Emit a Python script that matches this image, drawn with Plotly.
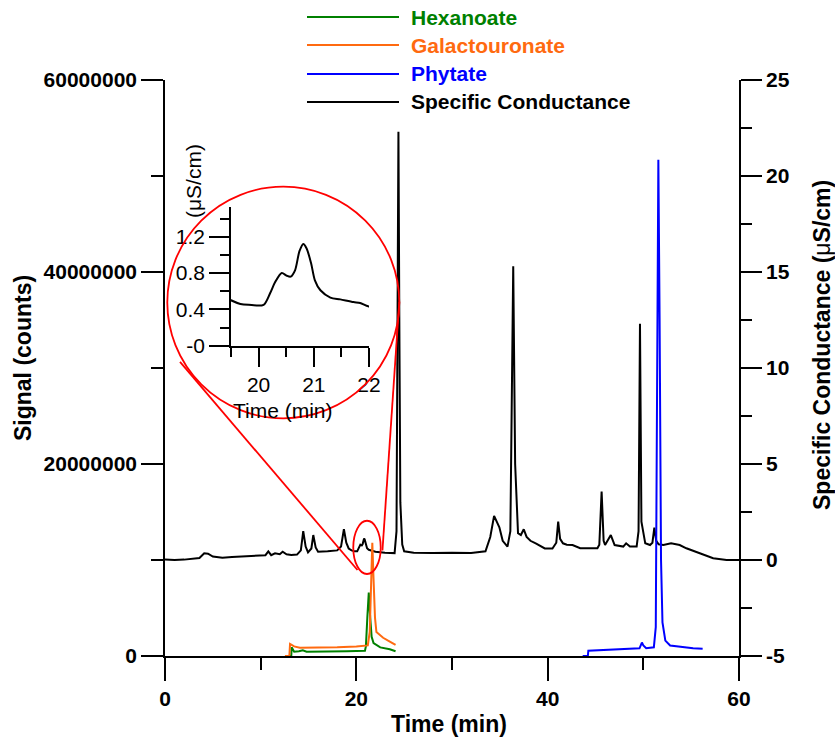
import plotly.graph_objects as go

# ---------------- data ----------------
series_names = ["Hexanoate", "Galactouronate", "Phytate", "Specific Conductance"]
series_colors = ["#008000", "#ff6a10", "#0000ff", "#000000"]

hex_t = [12.54, 13.2, 13.24, 13.5, 14.0, 14.4, 14.8, 16.0, 17.0, 19.0, 20.9, 21.0, 21.15, 21.3, 21.45,
         21.6, 21.8, 22.5, 23.5, 24.1]
hex_y = [0, 0, 0.9e6, 0.45e6, 0.5e6, 0.6e6, 0.45e6, 0.45e6, 0.45e6, 0.5e6, 0.55e6, 1.0e6, 4.0e6, 6.6e6,
         4.0e6, 2.0e6, 1.35e6, 0.9e6, 0.7e6, 0.5e6]

gal_t = [12.54, 13.0, 13.07, 13.5, 14.1, 16.0, 18.0, 20.0, 20.9, 21.2, 21.4, 21.55, 21.67, 21.8, 21.95,
         22.1, 22.5, 22.8, 23.5, 24.1]
gal_y = [0, 0, 1.25e6, 1.0e6, 0.85e6, 0.85e6, 0.9e6, 1.0e6, 1.05e6, 1.1e6, 2.5e6, 8.0e6, 11.8e6, 8.0e6,
         4.0e6, 2.5e6, 2.1e6, 1.9e6, 1.5e6, 1.15e6]

phy_t = [43.66, 44.2, 44.25, 45.5, 47.0, 48.3, 49.6, 49.85, 50.0, 50.3, 51.1, 51.3, 51.45, 51.57, 51.7,
         51.85, 52.0, 52.3, 52.8, 53.5, 54.5, 55.2, 56.2]
phy_y = [0, 0, 0.55e6, 0.6e6, 0.65e6, 0.7e6, 0.8e6, 1.4e6, 1.1e6, 0.8e6, 0.9e6, 3.0e6, 30e6, 51.7e6, 35e6,
         10e6, 3.5e6, 1.6e6, 1.1e6, 1.0e6, 0.85e6, 0.8e6, 0.75e6]

cond_t = [0.0, 1.0, 2.0, 3.0, 3.6, 4.1, 4.5, 5.0, 6.0, 7.0, 8.0, 9.0, 10.0, 10.5, 10.8, 11.1, 11.5, 12.0,
          12.3, 12.7, 13.2, 13.8, 14.2, 14.45, 14.7, 14.95, 15.3, 15.5, 15.75, 16.0, 17.0, 18.0, 18.4,
          18.7, 18.95, 19.2, 19.5, 19.67, 19.82, 20.09, 20.21, 20.30, 20.42, 20.51, 20.58, 20.66, 20.74,
          20.81, 20.87, 20.95, 21.02, 21.12, 21.30, 21.48, 21.72, 21.84, 22.0, 23.0, 24.0, 24.2, 24.3,
          24.4, 24.5, 24.6, 24.8, 25.0, 26.0, 28.0, 30.0, 32.0, 33.5, 34.0, 34.4, 34.7, 34.95, 35.3, 35.8,
          36.1, 36.4, 36.6, 36.9, 37.2, 37.5, 37.8, 38.2, 38.8, 39.7, 40.5, 40.9, 41.1, 41.3, 41.6, 42.0,
          42.6, 43.4, 45.2, 45.4, 45.64, 45.85, 46.0, 46.6, 47.0, 47.6, 47.9, 48.2, 48.6, 49.3, 49.5,
          49.65, 49.8, 50.2, 50.7, 50.95, 51.15, 51.35, 51.6, 52.1, 52.9, 53.8, 54.5, 55.9, 57.3, 58.7,
          60.0]
cond_y = [0.02, 0.0, 0.02, 0.05, 0.1, 0.35, 0.33, 0.18, 0.12, 0.15, 0.18, 0.2, 0.22, 0.25, 0.45, 0.25,
          0.35, 0.3, 0.43, 0.3, 0.26, 0.28, 0.5, 1.5, 0.7, 0.4, 0.6, 1.3, 0.65, 0.43, 0.45, 0.5, 0.7,
          1.6, 0.9, 0.6, 0.5, 0.46, 0.45, 0.45, 0.58, 0.70, 0.80, 0.77, 0.76, 0.83, 1.04, 1.12, 1.07,
          0.91, 0.72, 0.61, 0.53, 0.51, 0.48, 0.47, 0.43, 0.38, 0.36, 1.5, 12.0, 22.3, 12.0, 3.0, 0.8,
          0.45, 0.38, 0.36, 0.38, 0.36, 0.45, 1.2, 2.3, 2.0, 1.7, 1.0, 0.7, 1.5, 15.3, 5.0, 1.4, 1.3,
          1.6, 1.2, 1.0, 0.85, 0.6, 0.6, 0.9, 2.0, 1.1, 0.87, 0.8, 0.78, 0.61, 0.61, 0.8, 3.56, 1.0,
          0.78, 1.3, 0.78, 0.7, 0.7, 0.87, 0.7, 0.7, 1.5, 12.3, 2.0, 0.87, 0.78, 0.9, 1.68, 1.0, 0.82,
          0.78, 0.87, 0.78, 0.61, 0.35, 0.09, 0.0, 0.0]

x_ticks = [0, 20, 40, 60]
x_minor = [10, 30, 50]
left_ticks = [0, 20000000, 40000000, 60000000]
left_labels = ["0", "20000000", "40000000", "60000000"]
left_minor = [10000000, 30000000, 50000000]
right_ticks = [-5, 0, 5, 10, 15, 20, 25]
right_labels = ["-5", "0", "5", "10", "15", "20", "25"]
right_minor = [-2.5, 2.5, 7.5, 12.5, 17.5, 22.5]
inset_x_ticks = [20, 21, 22]
inset_x_minor = [19.5, 20.5, 21.5]
inset_y_ticks = [0, 0.4, 0.8, 1.2]
inset_y_labels = ["-0", "0.4", "0.8", "1.2"]
inset_y_minor = [0.2, 0.6, 1.0, 1.4]

# ---------------- figure ----------------
W, H = 835, 740
ML, MR, MT, MB = 165, 96, 80, 84
PW, PH = W - ML - MR, H - MT - MB

def px(xp):
    return (xp - ML) / PW

def py(yp):
    return (H - MB - yp) / PH

FONT = "Liberation Sans, Arial, sans-serif"
LW = 2.0

fig = go.Figure()
# conductance (primary y, right side) drawn first -> below the signal traces
fig.add_trace(go.Scatter(x=cond_t, y=cond_y, mode="lines", name=series_names[3],
                         line=dict(color=series_colors[3], width=LW), xaxis="x", yaxis="y",
                         showlegend=False))
for t, y, n, c in [(hex_t, hex_y, series_names[0], series_colors[0]),
                   (gal_t, gal_y, series_names[1], series_colors[1]),
                   (phy_t, phy_y, series_names[2], series_colors[2])]:
    fig.add_trace(go.Scatter(x=t, y=y, mode="lines", name=n, line=dict(color=c, width=LW),
                             xaxis="x", yaxis="y2", showlegend=False))
# inset
fig.add_trace(go.Scatter(x=cond_t, y=cond_y, mode="lines",
                         line=dict(color="black", width=LW, shape="spline", smoothing=0.8),
                         xaxis="x3", yaxis="y3", showlegend=False))

axis_common = dict(showline=True, linecolor="black", linewidth=1.6, ticks="outside", tickwidth=1.6,
                   tickcolor="black", showgrid=False, zeroline=False)
bold_tick = dict(family=FONT, size=21, color="black", weight="bold")
reg_tick = dict(family=FONT, size=21, color="black")

fig.update_layout(
    width=W, height=H, margin=dict(l=ML, r=MR, t=MT, b=MB, autoexpand=False),
    paper_bgcolor="white", plot_bgcolor="white", showlegend=False,
    xaxis=dict(domain=[0, 1], range=[0, 60], anchor="y", tickvals=x_ticks, ticklen=23,
               tickfont=bold_tick,
               minor=dict(tickvals=x_minor, ticks="outside", ticklen=12, tickwidth=1.6,
                          tickcolor="black"),
               **axis_common),
    yaxis=dict(domain=[0, 1], range=[-5, 25], side="right", anchor="x", tickvals=right_ticks,
               ticktext=right_labels, ticklen=21, tickfont=bold_tick,
               minor=dict(tickvals=right_minor, ticks="outside", ticklen=11, tickwidth=1.6,
                          tickcolor="black"),
               **axis_common),
    yaxis2=dict(range=[0, 60000000], side="left", overlaying="y", anchor="x", tickvals=left_ticks,
                ticktext=left_labels, ticklen=22, tickfont=bold_tick,
                minor=dict(tickvals=left_minor, ticks="outside", ticklen=12, tickwidth=1.6,
                           tickcolor="black"),
                **axis_common),
    xaxis3=dict(domain=[px(231), px(369)], range=[19.5, 22], anchor="y3", tickvals=inset_x_ticks,
                ticklen=19, tickfont=reg_tick,
                minor=dict(tickvals=inset_x_minor, ticks="outside", ticklen=9, tickwidth=1.6,
                           tickcolor="black"),
                **axis_common),
    yaxis3=dict(domain=[py(345.7), py(206.7)], range=[0, 1.53], anchor="x3", tickvals=inset_y_ticks,
                ticktext=inset_y_labels, ticklen=20, tickfont=reg_tick,
                minor=dict(tickvals=inset_y_minor, ticks="outside", ticklen=9, tickwidth=1.6,
                           tickcolor="black"),
                **axis_common),
)

# ---- zoom markers: circle, small ellipse, connecting lines (data coords of main axes) ----
red = dict(color="#ff0000", width=1.8)
shapes = [
    dict(type="circle", xref="x", yref="y2", x0=0.24, x1=24.49, y0=24.76e6, y1=48.89e6, line=red,
         layer="above"),
    dict(type="circle", xref="x", yref="y2", x0=19.68, x1=22.55, y0=8.54e6, y1=14.09e6, line=red,
         layer="above"),
    dict(type="line", xref="x", yref="y2", x0=1.57, y0=30.63e6, x1=20.12, y1=8.96e6, line=red),
    dict(type="line", xref="x", yref="y2", x0=24.49, y0=36.9e6, x1=22.73, y1=10.99e6, line=red),
]

# ---- manual legend ----
annotations = []
legend_rows = [17, 45, 74, 102]
for name, col, ry in zip(series_names, series_colors, legend_rows):
    shapes.append(dict(type="line", xref="paper", yref="paper", x0=px(307), x1=px(399),
                       y0=py(ry), y1=py(ry), line=dict(color=col, width=1.8)))
    annotations.append(dict(xref="paper", yref="paper", x=px(409), y=py(ry), xanchor="left",
                            yanchor="middle", showarrow=False, text=name,
                            font=dict(family=FONT, size=21, color=col, weight="bold")))

# ---- axis titles ----
title_font = dict(family=FONT, size=23, color="black", weight="bold")
annotations += [
    dict(xref="paper", yref="paper", x=px(449), y=py(724), text="Time (min)", showarrow=False,
         xanchor="center", yanchor="middle", font=title_font),
    dict(xref="paper", yref="paper", x=px(23), y=py(358), text="Signal (counts)", showarrow=False,
         textangle=-90, xanchor="center", yanchor="middle", font=title_font),
    dict(xref="paper", yref="paper", x=px(822), y=py(345),
         text="Specific Conductance (<span style='font-weight:normal'>\u03bc</span>S/cm)",
         showarrow=False, textangle=-90, xanchor="center", yanchor="middle", font=title_font),
    dict(xref="paper", yref="paper", x=px(283), y=py(410), text="Time (min)", showarrow=False,
         xanchor="center", yanchor="middle", font=dict(family=FONT, size=21, color="black")),
    dict(xref="paper", yref="paper", x=px(193), y=py(181), text="(\u03bcS/cm)", showarrow=False,
         textangle=-90, xanchor="center", yanchor="middle",
         font=dict(family=FONT, size=21, color="black")),
]

fig.update_layout(shapes=shapes, annotations=annotations)
fig.write_html("out.html")
